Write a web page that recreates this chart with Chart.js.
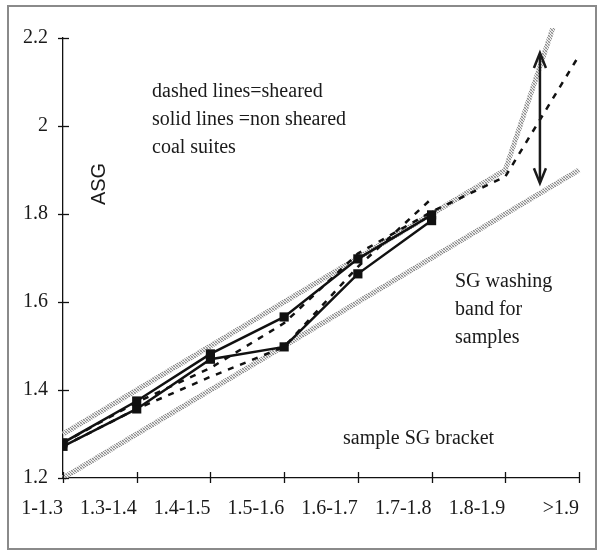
<!DOCTYPE html>
<html>
<head>
<meta charset="utf-8">
<script src="https://cdn.jsdelivr.net/npm/chart.js@4.4.1/dist/chart.umd.min.js"></script>
<style>
  html, body { margin: 0; padding: 0; background: #fff; }
  #wrap { position: relative; width: 605px; height: 557px; }
  #frame { position: absolute; left: 7px; top: 5px; width: 590px; height: 545px; border: 2px solid #8a8a8a; box-sizing: border-box; pointer-events: none; }
  canvas { position: absolute; left: 0; top: 0; }
</style>
</head>
<body>
<div id="wrap">
  <canvas id="c" width="605" height="557"></canvas>
  <div id="frame"></div>
</div>
<script>
// ---- data ----
const categories = ['1-1.3', '1.3-1.4', '1.4-1.5', '1.5-1.6', '1.6-1.7', '1.7-1.8', '1.8-1.9', '>1.9'];
const nonShearedA = [1.28, 1.375, 1.482, 1.566, 1.698, 1.798];
const nonShearedB = [1.272, 1.357, 1.47, 1.498, 1.664, 1.785];
const shearedA = [1.28, 1.372, 1.45, 1.552, 1.71, 1.805, 1.885, 2.16];
const shearedB = [1.272, 1.357, 1.43, 1.498, 1.68, 1.835];
const bandUpper = [1.3, 1.4, 1.5, 1.6, 1.7, 1.8, 1.9, 2.4];
const bandLower = [1.2, 1.3, 1.4, 1.5, 1.6, 1.7, 1.8, 1.9];
const yTicks = [1.2, 1.4, 1.6, 1.8, 2, 2.2];
const arrowX = 6.47;
const arrowTop = 2.166;
const arrowBottom = 1.87;

const pts = arr => arr.map((v, i) => ({ x: i, y: v }));

// gray dithered band pattern
const pc = document.createElement('canvas');
pc.width = 3; pc.height = 3;
const pctx = pc.getContext('2d');
pctx.fillStyle = '#ededed'; pctx.fillRect(0, 0, 3, 3);
pctx.fillStyle = '#8c8c8c';
pctx.fillRect(0, 0, 1, 1); pctx.fillRect(1, 1, 1, 1); pctx.fillRect(2, 2, 1, 1);
pctx.fillStyle = '#c4c4c4';
pctx.fillRect(2, 0, 1, 1); pctx.fillRect(0, 2, 1, 1);
const ctx0 = document.getElementById('c').getContext('2d');
const bandPattern = ctx0.createPattern(pc, 'repeat');

const solid = (data) => ({
  data: pts(data), borderColor: '#111', borderWidth: 2.5, showLine: true,
  pointStyle: 'rect', pointRadius: 6.5, pointBackgroundColor: '#111', pointBorderWidth: 0,
  tension: 0, fill: false
});
const dashed = (data) => ({
  data: pts(data), borderColor: '#111', borderWidth: 2.5, borderDash: [6, 7], showLine: true,
  pointRadius: 0, tension: 0, fill: false
});
const band = (data) => ({
  data: pts(data), borderColor: bandPattern, borderWidth: 5, showLine: true,
  pointRadius: 0, tension: 0, fill: false,
  clip: { left: 5, top: 10, right: 5, bottom: 5 }
});

const serif = "'Liberation Serif', 'Times New Roman', serif";

const extras = {
  id: 'extras',
  afterDraw(chart) {
    const { ctx, scales: { x, y } } = chart;
    ctx.save();
    // cross tick marks
    ctx.strokeStyle = '#111';
    ctx.lineWidth = 1.3;
    const x0 = x.getPixelForValue(0);
    const yb = y.getPixelForValue(yTicks[0]);
    yTicks.forEach(v => {
      const py = Math.round(y.getPixelForValue(v)) + 0.5;
      ctx.beginPath(); ctx.moveTo(x0 - 5, py); ctx.lineTo(x0 + 6, py); ctx.stroke();
    });
    categories.forEach((c, i) => {
      const px = Math.round(x.getPixelForValue(i)) + 0.5;
      ctx.beginPath(); ctx.moveTo(px, yb - 6); ctx.lineTo(px, yb + 5); ctx.stroke();
    });
    // double-headed arrow
    const ax = x.getPixelForValue(arrowX);
    const at = y.getPixelForValue(arrowTop);
    const ab = y.getPixelForValue(arrowBottom);
    ctx.lineWidth = 2.5;
    ctx.strokeStyle = '#1a1a1a';
    ctx.beginPath(); ctx.moveTo(ax, at + 1); ctx.lineTo(ax, ab - 1); ctx.stroke();
    ctx.beginPath(); ctx.moveTo(ax - 6, at + 15); ctx.lineTo(ax, at); ctx.lineTo(ax + 6, at + 15); ctx.stroke();
    ctx.beginPath(); ctx.moveTo(ax - 6, ab - 15); ctx.lineTo(ax, ab); ctx.lineTo(ax + 6, ab - 15); ctx.stroke();
    // annotations
    ctx.fillStyle = '#1a1a1a';
    ctx.font = '20px ' + serif;
    ctx.textAlign = 'left';
    ctx.textBaseline = 'middle';
    ctx.fillText('dashed lines=sheared', 152, 92);
    ctx.fillText('solid lines =non sheared', 152, 120);
    ctx.fillText('coal suites', 152, 148);
    ctx.fillText('SG washing', 455, 282);
    ctx.fillText('band for', 455, 310);
    ctx.fillText('samples', 455, 338);
    ctx.fillText('sample SG bracket', 343, 439);
    ctx.save();
    ctx.translate(99, 184);
    ctx.rotate(-Math.PI / 2);
    ctx.textAlign = 'center';
    ctx.font = "20px 'Liberation Sans', Arial, sans-serif";
    ctx.fillText('ASG', 0, 0);
    ctx.restore();
    ctx.restore();
  }
};

new Chart(ctx0, {
  type: 'scatter',
  data: {
    datasets: [
      solid(nonShearedA),
      solid(nonShearedB),
      dashed(shearedA),
      dashed(shearedB),
      band(bandUpper),
      band(bandLower)
    ]
  },
  options: {
    responsive: false,
    animation: false,
    devicePixelRatio: 1,
    layout: { padding: { left: 0, top: 38, right: 26, bottom: 0 } },
    plugins: { legend: { display: false }, tooltip: { enabled: false } },
    scales: {
      x: {
        type: 'linear', min: 0, max: 7,
        afterFit: s => { s.height = 79; },
        afterBuildTicks: s => { s.ticks = categories.map((c, i) => ({ value: i })); },
        grid: { display: false, drawTicks: false },
        border: { display: true, color: '#111', width: 1.3 },
        ticks: {
          callback: v => categories[v],
          align: 'end', padding: 19, maxRotation: 0, autoSkip: false,
          color: '#1a1a1a', font: { family: serif, size: 20 }
        }
      },
      y: {
        type: 'linear', min: 1.2, max: 2.2,
        afterFit: s => { s.width = 63; },
        afterBuildTicks: s => { s.ticks = yTicks.map(v => ({ value: v })); },
        grid: { display: false, drawTicks: false },
        border: { display: true, color: '#111', width: 1.3 },
        ticks: {
          callback: v => String(+v.toFixed(1)),
          padding: 15,
          color: '#1a1a1a', font: { family: serif, size: 20 }
        }
      }
    }
  },
  plugins: [extras]
});
</script>
</body>
</html>
